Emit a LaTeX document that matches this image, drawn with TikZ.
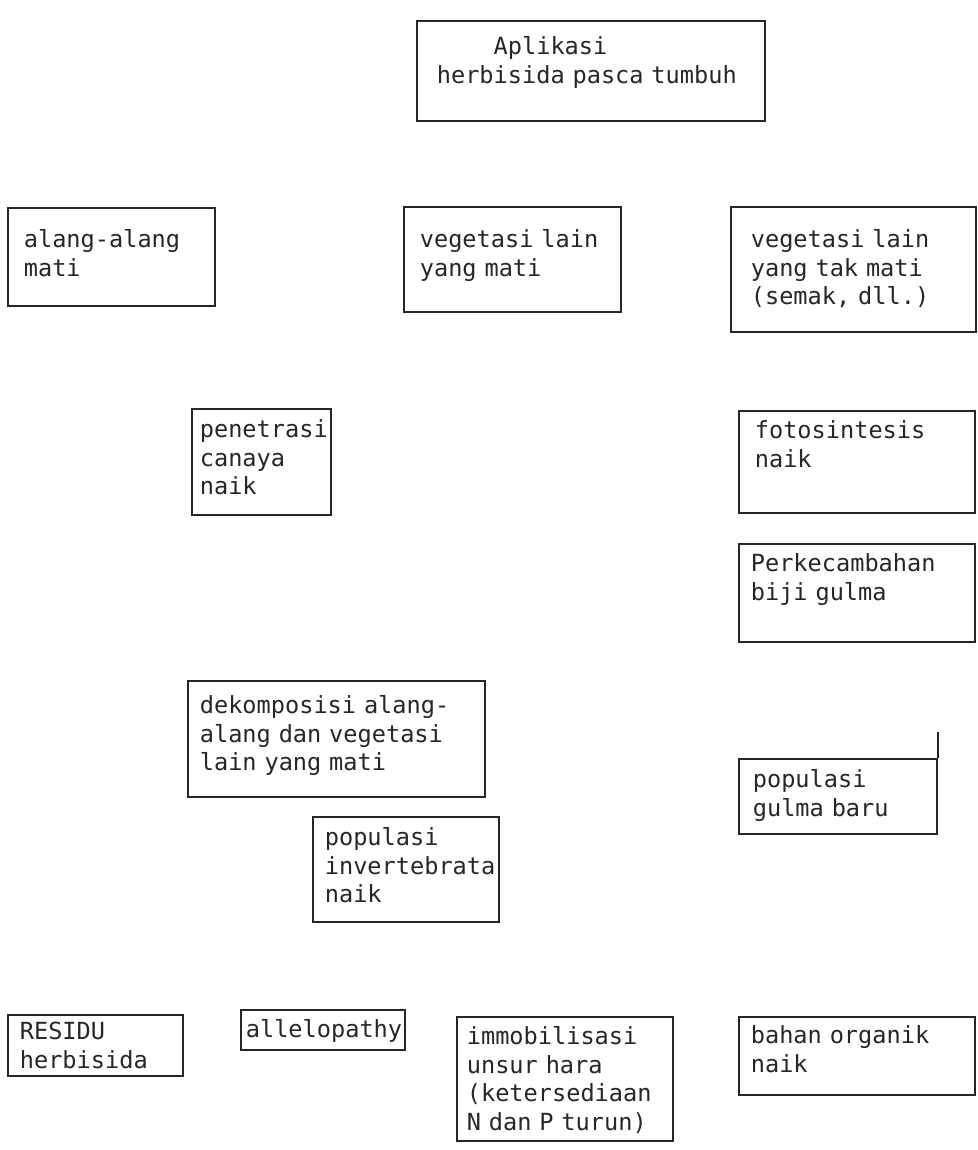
\documentclass[tikz,border=0pt]{standalone}
\usepackage{fontspec}
\setmonofont{DejaVu Sans Mono}
\usetikzlibrary{positioning}
\hyphenpenalty=10000
\exhyphenpenalty=10000
\tikzset{
  kotak/.style={rectangle, draw=black!85, line width=1.3pt, align=left, anchor=north west,
                text=black!85, font=\ttfamily\fontsize{17.7pt}{21.4pt}\selectfont,
                inner ysep=0pt},
}

\begin{document}
\begin{tikzpicture}[x=0.75pt, y=-0.75pt]
  \useasboundingbox (0,0) rectangle (978,1150);
  % baris atas
  \node[kotak, inner xsep=15pt, text width=231pt, text height=25.5pt, text depth=49.5pt] (aplikasi) at (416,20)
    {\hphantom{xxxx}Aplikasi\\herbisida~pasca~tumbuh};
  \node[kotak, inner xsep=12pt, text width=131.25pt, text height=30pt, text depth=43.5pt] (alang) at (7,207)
    {alang-alang\\mati};
  \node[kotak, inner xsep=12pt, text width=138.75pt, text height=30.75pt, text depth=48pt] (vegmati) at (403,206)
    {vegetasi~lain\\yang~mati};
  \node[kotak, inner xsep=15pt, text width=153.75pt, text height=30.75pt, text depth=63pt] (vegtak) at (730,206)
    {vegetasi~lain\\yang~tak~mati\\(semak,~dll.)};
  % tengah
  \node[kotak, inner xsep=6pt, text width=92.25pt, text height=21.75pt, text depth=57.75pt] (penetrasi) at (191,408)
    {penetrasi\\canaya\\naik};
  \node[kotak, inner xsep=12pt, text width=153pt, text height=21pt, text depth=55.5pt] (foto) at (738,410)
    {fotosintesis\\naik};
  \node[kotak, inner xsep=9pt, text width=159pt, text height=21pt, text depth=52.5pt] (kecambah) at (738,543)
    {Perkecambahan\\biji~gulma};
  \node[kotak, inner xsep=9pt, text width=204.75pt, text height=24.75pt, text depth=62.25pt] (dekomp) at (187,680)
    {dekomposisi~alang-\\alang~dan~vegetasi\\lain~yang~mati};
  \node[kotak, inner xsep=10.5pt, text width=127.5pt, text height=21.75pt, text depth=34.5pt] (gulma) at (738,758)
    {populasi\\gulma~baru};
  \draw[draw=black!85, line width=1.3pt] (gulma.north east) -- ++(0,-26);
  \node[kotak, inner xsep=9pt, text width=121.5pt, text height=21.75pt, text depth=57pt] (invert) at (312,816)
    {populasi\\invertebrata\\naik};
  % baris bawah
  \node[kotak, inner xsep=9pt, text width=113.25pt, text height=18.75pt, text depth=27pt] (residu) at (7,1014)
    {RESIDU\\herbisida};
  \node[kotak, inner xsep=3.75pt, text width=115.5pt, text height=21pt, text depth=9pt] (allelo) at (240,1009)
    {allelopathy};
  \node[kotak, inner xsep=7.5pt, text width=147pt, text height=21pt, text depth=72pt] (imobil) at (456,1016)
    {immobilisasi\\unsur~hara\\(ketersediaan\\N~dan~P~turun)};
  \node[kotak, inner xsep=9pt, text width=159pt, text height=20.25pt, text depth=38.25pt] (organik) at (738,1016)
    {bahan~organik\\naik};
\end{tikzpicture}
\end{document}
